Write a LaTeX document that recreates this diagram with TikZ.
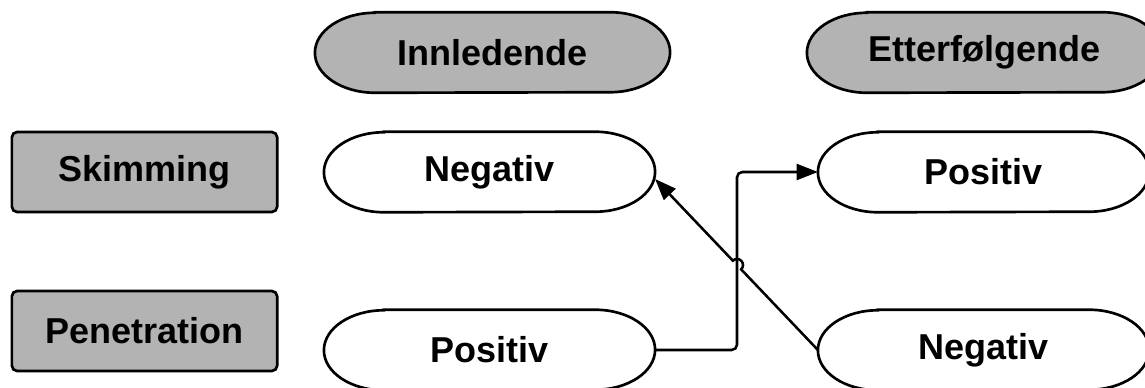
\documentclass[tikz,border=0pt]{standalone}
\usepackage{fontspec}
\setmainfont{Liberation Sans}
\usetikzlibrary{positioning, arrows.meta, calc, backgrounds}
\definecolor{boxgray}{HTML}{B3B3B3}

\begin{document}
\begin{tikzpicture}[
        >={Triangle[length=16pt,width=12pt]},
        x=0.75pt,
        y=-0.75pt,
        every node/.style={font=\fontsize{27}{32}\selectfont\bfseries, inner sep=0pt},
        head/.style={minimum width=266pt, minimum height=60pt},
        val/.style={minimum width=248pt, minimum height=60pt},
        strategy/.style={draw, line width=2pt, rectangle, rounded corners=4pt, fill=boxgray, minimum width=199pt, minimum height=60pt},
        capsule/.style={draw, line width=2pt},
        link/.style={->, line width=1.9pt}
    ]
    \useasboundingbox (0,0) rectangle (1145,388);

    \node[head] (inn) at (492.5,52.5) {Innledende};
    \node[head] (etter) at (984.5,52.5) {Etterfølgende};

    \node[strategy] (skim) at (144.5,172) {Skimming};
    \node[strategy] (pen) at (144.5,331) {Penetration};

    \node[val] (skimneg) at (489.5,172) {Negativ};
    \node[val] (skimpos) at (983.5,172) {Positiv};
    \node[val] (penpos) at (489.5,350) {Positiv};
    \node[val] (penneg) at (983.5,350) {Negativ};

    % outlines with elliptic ends behind the texts
    \begin{pgfonlayer}{background}
        \foreach \n/\c in {inn/boxgray, etter/boxgray, skimneg/white, skimpos/white, penpos/white, penneg/white}
            \draw[capsule, fill=\c] ($(\n.north west)+(60,0)$) -- ($(\n.north east)+(-60,0)$)
                arc[start angle=90, end angle=-90, x radius=45pt, y radius=30pt]
                -- ($(\n.south west)+(60,0)$)
                arc[start angle=270, end angle=90, x radius=45pt, y radius=30pt] -- cycle;
    \end{pgfonlayer}

    % route of the price line and the jump over it
    \coordinate (bend) at (737,0);
    \coordinate (lo) at (bend |- penpos.east);
    \coordinate (hi) at (bend |- skimpos.west);
    \coordinate (tip) at ($(skimneg.east)+(0,7)$);
    \coordinate (jump) at (intersection of penneg.west--tip and lo--hi);

    \draw[link, rounded corners=4pt] (penpos.east) -- (lo) -- (hi) -- (skimpos.west);
    \draw[link] let \p1=($(tip)-(penneg.west)$), \n1={atan2(\y1,\x1)} in
        (penneg.west) -- ($(jump)!4.5pt!(penneg.west)$)
        arc[start angle=\n1-180, end angle=\n1, radius=4.5pt] -- (tip);
\end{tikzpicture}
\end{document}
